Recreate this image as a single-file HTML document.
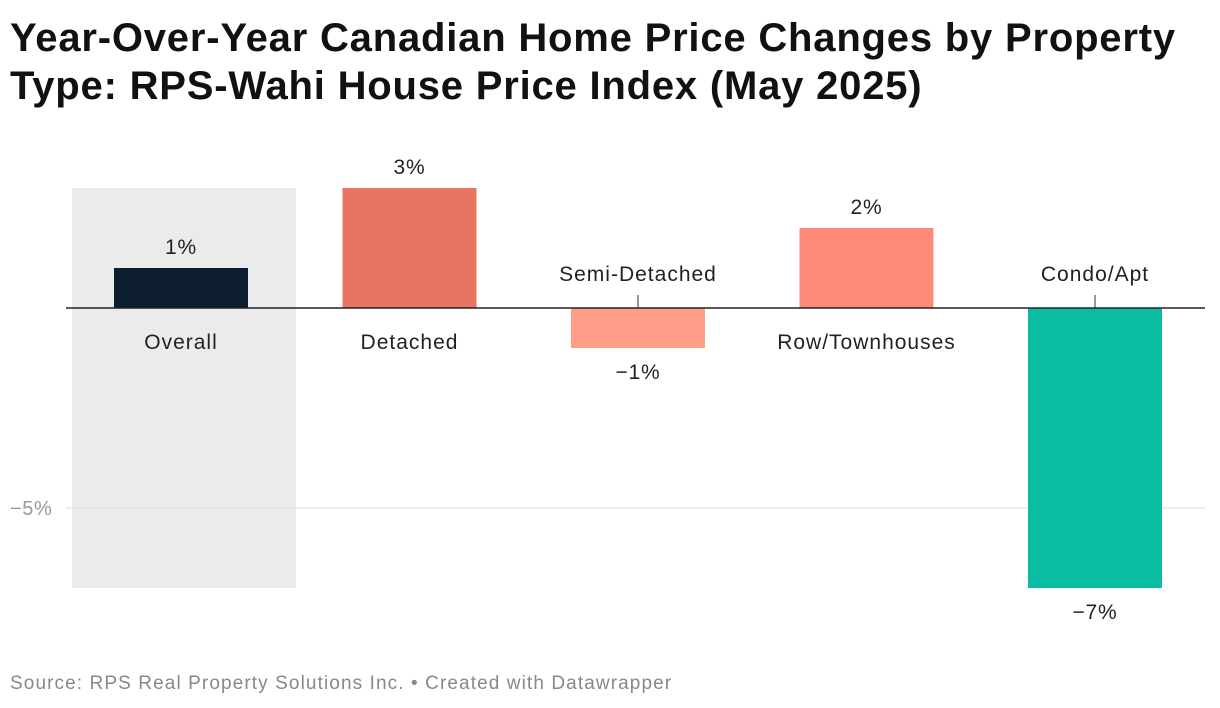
<!DOCTYPE html>
<html><head><meta charset="utf-8"><style>
body{margin:0;background:#fff;width:1220px;height:708px;overflow:hidden;font-family:"Liberation Sans",sans-serif}
h1{position:absolute;left:10px;top:14px;margin:0;font-size:40px;line-height:48px;font-weight:bold;color:#111;letter-spacing:0.8px;white-space:nowrap}
.src{position:absolute;left:10px;top:673px;font-size:19px;color:#888;letter-spacing:1.1px;white-space:nowrap}
</style></head><body>
<h1>Year-Over-Year Canadian Home Price Changes by Property<br>Type: RPS-Wahi House Price Index (May 2025)</h1>
<svg id="chart" width="1220" height="708" style="position:absolute;left:0;top:0"></svg>
<div class="src">Source: RPS Real Property Solutions Inc. • Created with Datawrapper</div>
<script>
const categories=["Overall","Detached","Semi-Detached","Row/Townhouses","Condo/Apt"];
const values=[1,3,-1,2,-7];
const valueLabels=["1%","3%","−1%","2%","−7%"];
const colors=["#0b1d2e","#e87462","#ff9d88","#ff8a78","#0bbda0"];
const NS="http://www.w3.org/2000/svg";
const svg=document.getElementById("chart");
const y=v=>308-v*40;
const x=i=>114+i*228.5;
const bw=134;
function mk(t,a){const e=document.createElementNS(NS,t);for(const k in a)e.setAttribute(k,a[k]);svg.appendChild(e);return e;}
const bg=mk("rect",{x:72,y:y(3),width:224,height:y(-7)-y(3),fill:"#ebebeb"});


const g=mk("line",{x1:66,x2:1205,y1:y(-5),y2:y(-5),stroke:"#ddd","stroke-width":1});


const tl=mk("text",{x:10,y:y(-5)+7,"font-size":20,fill:"#999","letter-spacing":0.6});tl.textContent="−5%";


values.forEach((v,i)=>{
 const r=mk("rect",{x:x(i),y:Math.min(y(v),y(0)),width:bw,height:Math.abs(y(v)-y(0)),fill:colors[i]});
 
 
 const cx=x(i)+bw/2;
 const vl=mk("text",{x:cx,y:v>=0?y(v)-14:y(v)+31,"text-anchor":"middle","font-size":21,fill:"#222","letter-spacing":0.8});vl.textContent=valueLabels[i];
 
 
 const cl=mk("text",{x:cx,y:v>=0?y(0)+41:y(0)-27,"text-anchor":"middle","font-size":21,fill:"#222","letter-spacing":1.0});cl.textContent=categories[i];
 
 
 if(v<0){const t=mk("line",{x1:cx,x2:cx,y1:y(0)-13,y2:y(0),stroke:"#333","stroke-width":1});
 
 }
});
const z=mk("line",{x1:66,x2:1205,y1:y(0),y2:y(0),stroke:"#222","stroke-width":1.5});


</script>
</body></html>
